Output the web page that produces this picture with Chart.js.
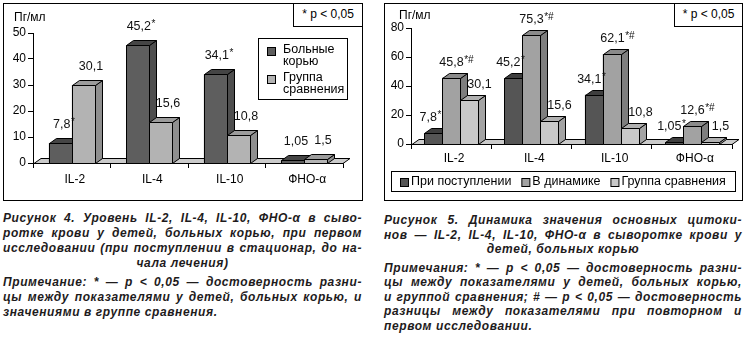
<!DOCTYPE html>
<html>
<head>
<meta charset="utf-8">
<script src="https://cdn.jsdelivr.net/npm/chart.js@4/dist/chart.umd.min.js"></script>
<style>
  body { margin: 0; width: 748px; height: 341px; background: #fff; position: relative; overflow: hidden;
         font-family: "Liberation Sans", Arial, sans-serif; color: #000; }
  .frame { position: absolute; border: 1px solid #000; box-sizing: border-box; }
  .pbox { position: absolute; border: 1px solid #000; box-sizing: border-box; background: #fff;
          font-size: 12px; text-align: center; line-height: 21px; }
  .unit { position: absolute; font-size: 12px; line-height: 14px; }
  canvas { position: absolute; top: 0; }
  .cap { position: absolute; font-weight: bold; font-style: italic; font-size: 12px; color: #1e1b1c;
         letter-spacing: 0.6px; }
  .cap div { white-space: nowrap; text-align: justify; text-align-last: justify; }
  .cap div.c { text-align: center; text-align-last: center; }
  .cap div.l { text-align: left; text-align-last: left; }
</style>
</head>
<body>
<div class="frame" style="left:3px;top:3px;width:360px;height:198px;"></div>
<div class="frame" style="left:384px;top:3px;width:359px;height:198px;"></div>

<canvas id="fig4" width="374" height="205" style="left:0;"></canvas>
<canvas id="fig5" width="374" height="205" style="left:374px;"></canvas>

<div class="pbox" style="left:293px;top:3px;width:70px;height:24px;">* p &lt; 0,05</div>
<div class="pbox" style="left:674px;top:3px;width:69px;height:24px;">* p &lt; 0,05</div>
<div class="unit" style="left:14px;top:10px;">Пг/мл</div>
<div class="unit" style="left:399px;top:8px;">Пг/мл</div>

<div class="cap" style="left:3px;top:211px;width:359px;line-height:15px;">
  <div>Рисунок 4. Уровень IL-2, IL-4, IL-10, ФНО-α в сыво-</div>
  <div>ротке крови у детей, больных корью, при первом</div>
  <div>исследовании (при поступлении в стационар, до на-</div>
  <div class="c">чала лечения)</div>
  <div style="margin-top:4px;">Примечание: * — p &lt; 0,05 — достоверность разни-</div>
  <div>цы между показателями у детей, больных корью, и</div>
  <div class="l">значениями в группе сравнения.</div>
</div>

<div class="cap" style="left:384px;top:213px;width:358px;line-height:14.5px;">
  <div>Рисунок 5. Динамика значения основных цитоки-</div>
  <div>нов — IL-2, IL-4, IL-10, ФНО-α в сыворотке крови у</div>
  <div class="c">детей, больных корью</div>
  <div style="margin-top:4px;">Примечания: * — p &lt; 0,05 — достоверность разни-</div>
  <div>цы между показателями у детей, больных корью,</div>
  <div>и группой сравнения; # — p &lt; 0,05 — достоверность</div>
  <div>разницы между показателями при повторном и</div>
  <div class="l">первом исследовании.</div>
</div>

<script>
// Cytokine levels, pg/ml
const categories = ['IL-2', 'IL-4', 'IL-10', 'ФНО-α'];

// Figure 4: first examination vs comparison group
const fig4Patients = [7.8, 45.2, 34.1, 1.05];
const fig4Control = [30.1, 15.6, 10.8, 1.5];
const fig4PatientsMarks = ['*', '*', '*', ''];
const fig4ControlMarks = ['', '', '', ''];
const fig4Ticks = [0, 10, 20, 30, 40, 50];

// Figure 5: dynamics during treatment
const fig5Admission = [7.8, 45.2, 34.1, 1.05];
const fig5Dynamics = [45.8, 75.3, 62.1, 12.6];
const fig5Control = [30.1, 15.6, 10.8, 1.5];
const fig5AdmissionMarks = ['*', '*', '*', '*'];
const fig5DynamicsMarks = ['*#', '*#', '*#', '*#'];
const fig5ControlMarks = ['', '', '', ''];
const fig5Ticks = [0, 20, 40, 60, 80];

const FAMILY = '"Liberation Sans", Arial, sans-serif';
Chart.defaults.color = '#000';
Chart.defaults.font.family = FAMILY;

const fmt = v => String(v).replace('.', ',');

function poly(ctx, pts, fill) {
  ctx.beginPath();
  ctx.moveTo(pts[0][0], pts[0][1]);
  for (let k = 1; k < pts.length; k++) ctx.lineTo(pts[k][0], pts[k][1]);
  ctx.closePath();
  ctx.fillStyle = fill;
  ctx.fill();
  ctx.stroke();
}

// Extruded bars with a floor plane and value labels above each bar
const depth3d = {
  id: 'depth3d',
  beforeDatasetsDraw(chart, args, o) {
    const { ctx, chartArea: a, scales: { y } } = chart;
    const y0 = Math.round(y.getPixelForValue(0)) + 0.5;
    ctx.save();
    ctx.lineWidth = 1;
    ctx.strokeStyle = '#000';
    poly(ctx, [[a.left + 1, y0], [a.left + 1 + o.dx, y0 - o.dy], [a.right + o.dx, y0 - o.dy], [a.right, y0]], o.floor);
    ctx.restore();
  },
  afterDatasetsDraw(chart, args, o) {
    const { ctx } = chart;
    const n = chart.data.labels.length;
    ctx.save();
    ctx.lineWidth = 1;
    ctx.strokeStyle = '#000';
    ctx.lineJoin = 'miter';
    const boxes = [];
    for (let i = 0; i < n; i++) {
      chart.data.datasets.forEach((ds, d) => {
        const bar = chart.getDatasetMeta(d).data[i];
        const { x, y, base, width } = bar.getProps(['x', 'y', 'base', 'width'], true);
        const l = Math.round(x - width / 2) + 0.5, r = Math.round(x + width / 2) + 0.5;
        const t = Math.round(y) + 0.5, b = Math.round(base) + 0.5;
        const f = o.faces[d];
        poly(ctx, [[r, t], [r + o.dx, t - o.dy], [r + o.dx, b - o.dy], [r, b]], f.side);
        poly(ctx, [[l, t], [l + o.dx, t - o.dy], [r + o.dx, t - o.dy], [r, t]], f.top);
        poly(ctx, [[l, t], [r, t], [r, b], [l, b]], f.front);
        boxes.push({ cx: (l + r) / 2, t, d, i });
      });
    }
    // value labels
    ctx.textBaseline = 'middle';
    ctx.textAlign = 'left';
    boxes.forEach(bx => {
      const ds = chart.data.datasets[bx.d];
      const main = fmt(ds.data[bx.i]);
      const mark = ds.marks[bx.i];
      ctx.font = o.labelFont;
      const w1 = ctx.measureText(main).width;
      ctx.font = o.markFont;
      const w2 = mark ? ctx.measureText(mark).width + 0.5 : 0;
      const x0 = bx.cx + o.labelShift[bx.d] - (w1 + w2) / 2;
      const yy = bx.t - o.labelLift;
      ctx.fillStyle = '#111';
      ctx.font = o.labelFont;
      ctx.fillText(main, x0, yy);
      if (mark) {
        ctx.font = o.markFont;
        ctx.fillText(mark, x0 + w1 + 0.5, yy - 2);
      }
    });
    ctx.restore();
  }
};

// Framed legend drawn from the dataset labels and colours
const keyBox = {
  id: 'keyBox',
  afterDraw(chart, args, o) {
    const { ctx } = chart;
    ctx.save();
    ctx.fillStyle = '#fff';
    ctx.fillRect(o.x, o.y, o.w, o.h);
    ctx.strokeStyle = '#000';
    ctx.lineWidth = 1;
    ctx.strokeRect(o.x + 0.5, o.y + 0.5, o.w - 1, o.h - 1);
    ctx.font = o.font;
    ctx.textBaseline = 'middle';
    ctx.textAlign = 'left';
    let cx = o.x + o.padX;
    chart.data.datasets.forEach((ds, d) => {
      const lines = ds.label.split('\n');
      const sw = o.swatch;
      let sy, ty;
      if (o.vertical) {
        ty = o.y + o.firstLine + d * o.itemGap;
        sy = ty + 1 - sw / 2;
      } else {
        ty = o.y + o.h / 2;
        sy = ty - sw / 2;
      }
      ctx.fillStyle = o.faces[d].front;
      ctx.fillRect(cx + 0.5, Math.round(sy) + 0.5, sw, sw);
      ctx.strokeRect(cx + 0.5, Math.round(sy) + 0.5, sw, sw);
      ctx.fillStyle = '#000';
      const tx = cx + sw + o.textGap;
      let maxW = 0;
      lines.forEach((ln, k) => {
        ctx.fillText(ln, tx, ty + k * o.lineH);
        maxW = Math.max(maxW, ctx.measureText(ln).width);
      });
      if (!o.vertical) cx = tx + maxW + o.itemGap;
    });
    ctx.restore();
  }
};

function axes(ticksArr, yWidth, xHeight, xPad) {
  const tickFont = { family: FAMILY, size: 12 };
  return {
    x: {
      offset: true,
      afterFit: s => { s.height = xHeight; },
      grid: { display: true, drawOnChartArea: false, drawTicks: true, tickLength: 5, color: '#000', offset: true },
      border: { display: true, color: '#000', width: 1 },
      ticks: { font: tickFont, color: '#000', padding: xPad, labelOffset: 3, maxRotation: 0 }
    },
    y: {
      min: ticksArr[0],
      max: ticksArr[ticksArr.length - 1],
      afterFit: s => { s.width = yWidth; },
      afterBuildTicks: s => { s.ticks = ticksArr.map(v => ({ value: v })); },
      grid: { display: true, drawOnChartArea: false, drawTicks: true, tickLength: 5, color: '#000' },
      border: { display: true, color: '#000', width: 1 },
      ticks: { font: tickFont, color: '#000', padding: 2 }
    }
  };
}

const fig4Faces = [
  { front: '#5e5e5e', top: '#454545', side: '#4e4e4e' },
  { front: '#b3b3b3', top: '#9c9c9c', side: '#8f8f8f' }
];
const fig5Faces = [
  { front: '#555555', top: '#3e3e3e', side: '#474747' },
  { front: '#a2a2a2', top: '#8a8a8a', side: '#7e7e7e' },
  { front: '#c9c9c9', top: '#b0b0b0', side: '#a3a3a3' }
];

new Chart(document.getElementById('fig4'), {
  type: 'bar',
  data: {
    labels: categories,
    datasets: [
      { label: 'Больные\nкорью', data: fig4Patients, marks: fig4PatientsMarks,
        backgroundColor: fig4Faces[0].front, borderColor: '#000', borderWidth: 1,
        categoryPercentage: 0.594, barPercentage: 1 },
      { label: 'Группа\nсравнения', data: fig4Control, marks: fig4ControlMarks,
        backgroundColor: fig4Faces[1].front, borderColor: '#000', borderWidth: 1,
        categoryPercentage: 0.594, barPercentage: 1 }
    ]
  },
  options: {
    responsive: false,
    animation: false,
    devicePixelRatio: 1,
    layout: { padding: { top: 33, right: 31, left: 0, bottom: 0 } },
    scales: axes(fig4Ticks, 33, 42, 4),
    plugins: {
      legend: { display: false },
      tooltip: { enabled: false },
      depth3d: { dx: 7, dy: 5, floor: '#cbcbcb', faces: fig4Faces,
                 labelFont: '12.5px ' + FAMILY, markFont: '10px ' + FAMILY,
                 labelShift: [3, 7], labelLift: 19 },
      keyBox: { x: 258, y: 38, w: 90, h: 62, vertical: true, padX: 9, swatch: 8, textGap: 8,
                firstLine: 12, itemGap: 28, lineH: 12, font: '12.5px ' + FAMILY, faces: fig4Faces }
    }
  },
  plugins: [depth3d, keyBox]
});

new Chart(document.getElementById('fig5'), {
  type: 'bar',
  data: {
    labels: categories,
    datasets: [
      { label: 'При поступлении', data: fig5Admission, marks: fig5AdmissionMarks,
        backgroundColor: fig5Faces[0].front, borderColor: '#000', borderWidth: 1,
        categoryPercentage: 0.67, barPercentage: 1 },
      { label: 'В динамике', data: fig5Dynamics, marks: fig5DynamicsMarks,
        backgroundColor: fig5Faces[1].front, borderColor: '#000', borderWidth: 1,
        categoryPercentage: 0.67, barPercentage: 1 },
      { label: 'Группа сравнения', data: fig5Control, marks: fig5ControlMarks,
        backgroundColor: fig5Faces[2].front, borderColor: '#000', borderWidth: 1,
        categoryPercentage: 0.67, barPercentage: 1 }
    ]
  },
  options: {
    responsive: false,
    animation: false,
    devicePixelRatio: 1,
    layout: { padding: { top: 28, right: 16, left: 0, bottom: 0 } },
    scales: axes(fig5Ticks, 37, 61, 2),
    plugins: {
      legend: { display: false },
      tooltip: { enabled: false },
      depth3d: { dx: 7, dy: 5, floor: '#cbcbcb', faces: fig5Faces,
                 labelFont: '12.5px ' + FAMILY, markFont: '10px ' + FAMILY,
                 labelShift: [-3, 5, 10], labelLift: 16 },
      keyBox: { x: 17, y: 171, w: 345, h: 21, vertical: false, padX: 9, swatch: 8, textGap: 3,
                itemGap: 10, lineH: 12, font: '12.5px ' + FAMILY, faces: fig5Faces }
    }
  },
  plugins: [depth3d, keyBox]
});
</script>
</body>
</html>
